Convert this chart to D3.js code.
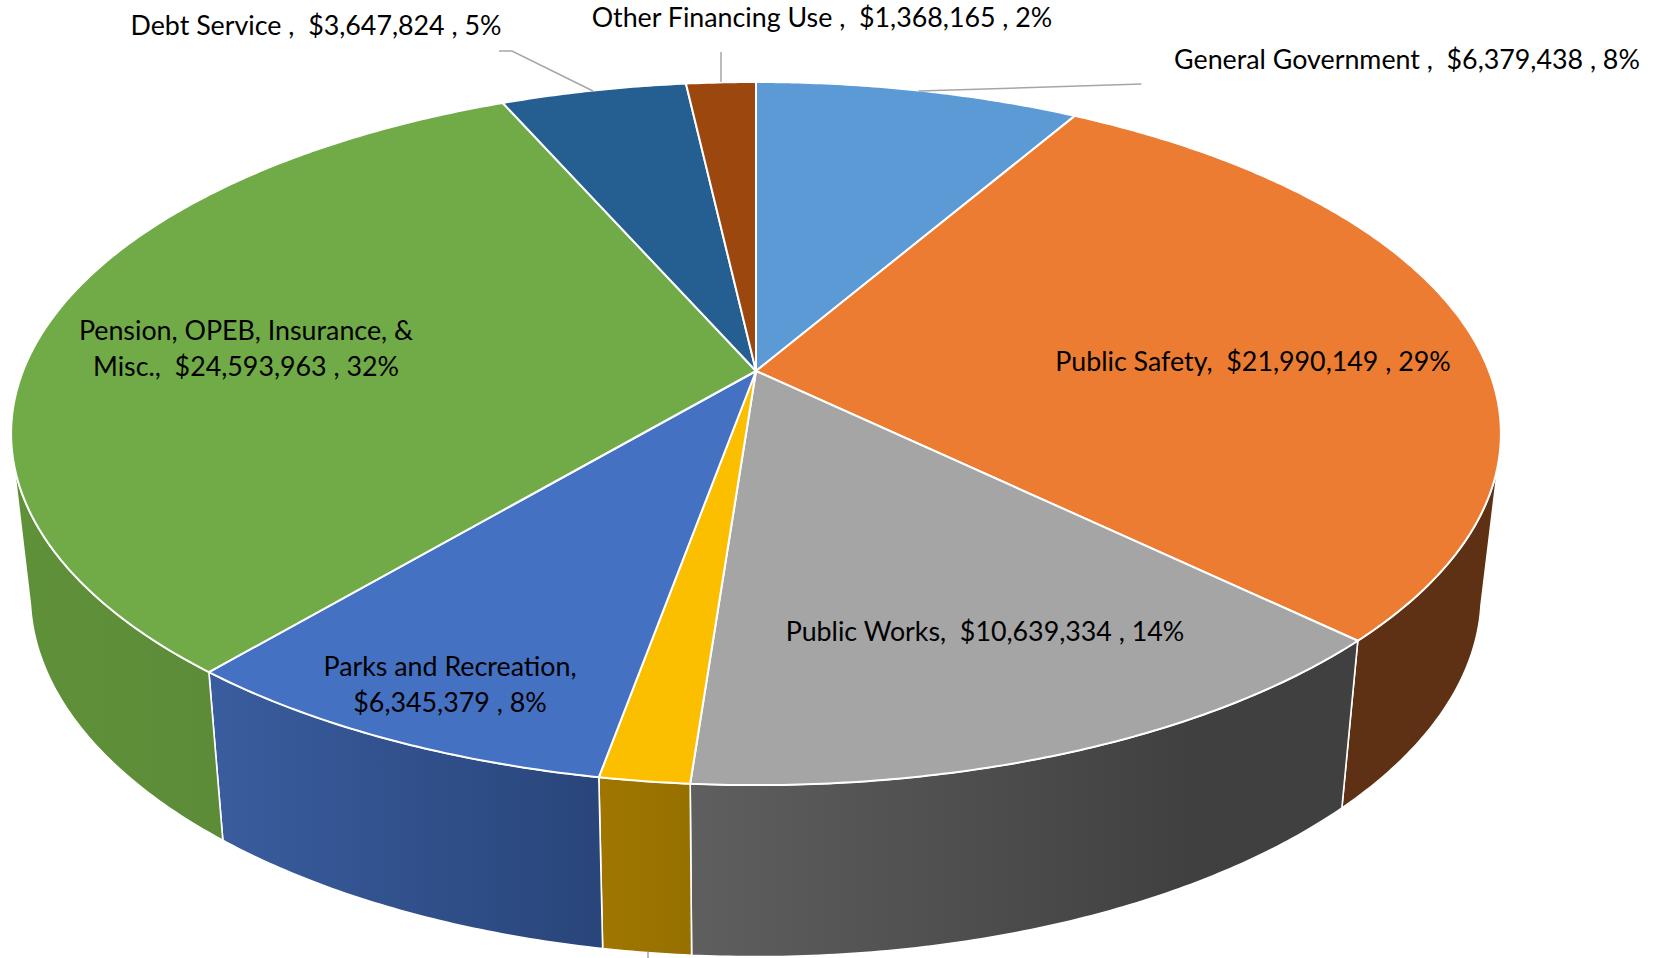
<!DOCTYPE html>
<html><head><meta charset="utf-8">
<script src="https://cdn.jsdelivr.net/npm/d3@7"></script>
<style>html,body{margin:0;padding:0;background:#fff;overflow:hidden}
svg{display:block}text{font-family:Lato,"Open Sans",sans-serif;fill:#000;white-space:pre}</style>
</head><body><svg id="c" width="1664" height="958"></svg>
<script>
// --- data ---
const categories = ["General Government","Public Safety","Public Works","Unlabelled (label off-canvas)","Parks and Recreation","Pension, OPEB, Insurance, & Misc.","Debt Service","Other Financing Use"];
const values = [6379438,21990149,10639334,1260000,6345379,24593963,3647824,1368165];
const percents = [8,29,14,2,8,32,5,2];
const topColors = ["#5b9ad5","#eb7c31","#a5a5a5","#fcbf00","#4471c2","#70ab47","#255e91","#9c470e"];
const wallLeft  = ["#37607f","#5e3114","#5f5f5f","#a07600","#3a5d9f","#5f9139","#16385a","#5e2b08"];
const wallRight = ["#37607f","#5e3114","#404040","#967000","#29457a","#5d8c38","#16385a","#5e2b08"];
const wallRamp  = [1,1,0.75,1,1,1,1,1];

// --- layout: perspective projection of the pie disc ---
const W=1664,H=958, x0=756,y0=371, ax=733, by=340.4, k=0.178;
const proj=(t)=>{const u=Math.sin(t),v=-Math.cos(t),d=1-k*v;return [x0+ax*u/d,y0+by*v/d];};
const drop=([x,y])=>[746+0.974*(x-746),1.03*y+148];
const rad=d3.scaleLinear().domain([0,360]).range([0,2*Math.PI]);
const wallMin=rad(102),wallMax=rad(258);
const step=rad(0.5);
const line=d3.line();
const arcAngles=(a,b)=>{const n=Math.max(2,Math.ceil((b-a)/step));return d3.range(n+1).map(i=>a+(b-a)*i/n);};

const pie=d3.pie().sort(null).value(d=>d)(values);
const svg=d3.select("#c");
const defs=svg.append("defs");

// walls
const walls=pie.map((p,i)=>({p,i,a:Math.max(p.startAngle,wallMin),b:Math.min(p.endAngle,wallMax)})).filter(d=>d.b>d.a);
walls.forEach(d=>{
  const xs=arcAngles(d.a,d.b).map(t=>proj(t)[0]);
  const g=defs.append("linearGradient").attr("id","w"+d.i).attr("gradientUnits","userSpaceOnUse")
    .attr("x1",d3.min(xs)).attr("x2",d3.max(xs)).attr("y1",0).attr("y2",0);
  g.append("stop").attr("offset",0).attr("stop-color",wallLeft[d.i]);
  g.append("stop").attr("offset",wallRamp[d.i]).attr("stop-color",wallRight[d.i]);
});
svg.append("g").selectAll("path").data(walls).join("path")
  .attr("d",d=>{const ts=arcAngles(d.a,d.b),top=ts.map(proj),bot=ts.map(t=>drop(proj(t))).reverse();return line(top.concat(bot))+"Z";})
  .attr("fill",d=>`url(#w${d.i})`).attr("stroke","#fff").attr("stroke-width",1.6).attr("stroke-linejoin","round");

// top faces
svg.append("g").selectAll("path").data(pie).join("path")
  .attr("d",p=>line([[x0,y0]].concat(arcAngles(p.startAngle,p.endAngle).map(proj)))+"Z")
  .attr("fill",(p,i)=>topColors[i]).attr("stroke","#fff").attr("stroke-width",2).attr("stroke-linejoin","round");

// leader lines
const leaders=[[[918.5,91],[1141.5,84]],[[593,91],[512,51],[499,51]],[[721,82],[721,52]],[[648,952],[648,958]]];
svg.append("g").selectAll("path").data(leaders).join("path").attr("d",d=>line(d))
  .attr("fill","none").attr("stroke","#a6a6a6").attr("stroke-width",1.5);

// labels
const money=d3.format(",");
const lab=i=>`$${money(values[i])} , ${percents[i]}%`;
const labels=[
 {x:1407,y:59.5,lines:[`${categories[0]} ,  ${lab(0)}`]},
 {x:1253,y:361.5,lines:[`${categories[1]},  ${lab(1)}`]},
 {x:985,y:632,lines:[`${categories[2]},  ${lab(2)}`]},
 {x:450,y:666.5,lines:[`${categories[4]},`,lab(4)]},
 {x:246,y:330.5,lines:["Pension, OPEB, Insurance, &",`Misc.,  ${lab(5)}`]},
 {x:316,y:25.5,lines:[`${categories[6]} ,  ${lab(6)}`]},
 {x:822,y:17.5,lines:[`${categories[7]} ,  ${lab(7)}`]}
];
const fs=26.8;
const gt=svg.append("g").attr("font-size",fs).attr("text-anchor","middle");
labels.forEach(l=>l.lines.forEach((s,j)=>{
  gt.append("text").attr("x",l.x).attr("y",l.y+j*36).attr("dy","0.35em").text(s);
}));
</script></body></html>
